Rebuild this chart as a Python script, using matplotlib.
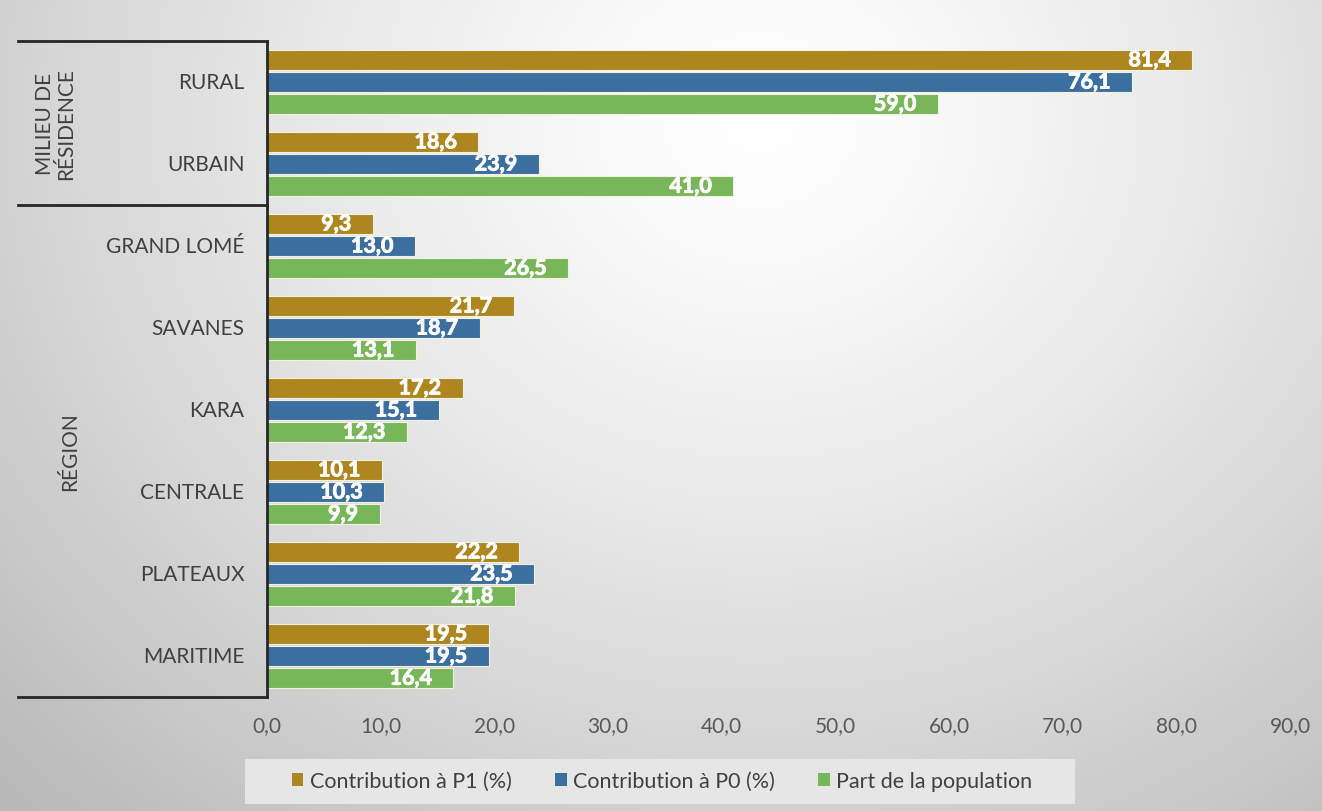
import numpy as np
import matplotlib.pyplot as plt
import matplotlib.patheffects as pe
from matplotlib.lines import Line2D
from matplotlib.patches import Patch, Rectangle

categories = ['RURAL', 'URBAIN', 'GRAND LOMÉ', 'SAVANES', 'KARA', 'CENTRALE', 'PLATEAUX', 'MARITIME']
p1 = [81.4, 18.6, 9.3, 21.7, 17.2, 10.1, 22.2, 19.5]
p0 = [76.1, 23.9, 13.0, 18.7, 15.1, 10.3, 23.5, 19.5]
pop = [59.0, 41.0, 26.5, 13.1, 12.3, 9.9, 21.8, 16.4]
series_names = ['Contribution à P1 (%)', 'Contribution à P0 (%)', 'Part de la population']
colors = ['#AD861F', '#3B6FA0', '#78B65A']
xticks = [0, 10, 20, 30, 40, 50, 60, 70, 80, 90]

plt.rcParams['font.family'] = ['Lato', 'DejaVu Sans']
fs = 15

W, H = 1322, 812
fig = plt.figure(figsize=(W / 100, H / 100), dpi=100)

# radial gradient background
bg = fig.add_axes([0, 0, 1, 1], zorder=-10)
yy, xx = np.mgrid[0:H, 0:W]
r = np.sqrt(((xx - 760) / 900.0) ** 2 + ((yy - 120) / 800.0) ** 2)
shade = 1.0 - 0.22 * np.clip(r, 0, 1.2) ** 1.3
bg.imshow(np.dstack([shade] * 3), extent=[0, 1, 0, 1], aspect='auto', origin='upper')
bg.set_axis_off()

x0, x1 = 267 / W, 1290 / W
y_top, y_bot = 1 - 42 / H, 1 - 698 / H
ax = fig.add_axes([x0, y_bot, x1 - x0, y_top - y_bot])
ax.patch.set_alpha(0)

bold = [pe.withStroke(linewidth=0.7, foreground='white')]
ypos = np.arange(len(categories))
step, h = 0.27, 0.245
for k, (vals, c) in enumerate(zip([p1, p0, pop], colors)):
    yk = ypos + (k - 1) * step
    ax.barh(yk, vals, height=h, color=c, edgecolor='#f4f0e0', linewidth=0.8)
    for y, v in zip(yk, vals):
        ax.text(v - 1.9, y, f'{v:.1f}'.replace('.', ','), ha='right', va='center',
                color='white', fontsize=fs + 0.5, fontweight='bold', path_effects=bold)

ax.set_xlim(0, 90)
ax.set_ylim(len(categories) - 0.5, -0.5)
ax.set_xticks(xticks)
ax.set_xticklabels([f'{t:.1f}'.replace('.', ',') for t in xticks], fontsize=fs, color='#595959')
ax.set_yticks([])
ax.tick_params(axis='x', length=0, pad=13)
for s in ['top', 'right', 'bottom']:
    ax.spines[s].set_visible(False)
ax.spines['left'].set_color('#262626')
ax.spines['left'].set_linewidth(2)

# category labels
for y, c in zip(ypos, categories):
    ax.text(-2.0, y, c, ha='right', va='center', fontsize=fs, color='#404040')

# bracket lines for two-level axis
for yb in [-0.5, 1.5, 7.5]:
    ax.add_line(Line2D([-21.9, 0], [yb, yb], color='#262626', lw=2, clip_on=False))
ax.text(-18.6, 0.5, 'MILIEU DE\nRÉSIDENCE', rotation=90, ha='center', va='center',
        fontsize=fs, color='#404040', linespacing=1.05)
ax.text(-17.3, 4.5, 'RÉGION', rotation=90, ha='center', va='center',
        fontsize=fs, color='#404040')

# legend box
fig.patches.append(Rectangle((245 / W, 1 - 805 / H), 830 / W, 45 / H, transform=fig.transFigure,
                             facecolor='#e6e6e6', edgecolor='none', zorder=0))
handles = [Patch(facecolor=c, edgecolor='none') for c in colors]
leg = fig.legend(handles, series_names, loc='center', bbox_to_anchor=(662 / W, 1 - 782 / H),
                 ncol=3, frameon=False, fontsize=fs + 0.5, handlelength=0.55, handleheight=0.55,
                 handletextpad=0.3, columnspacing=2.0)
for t in leg.get_texts():
    t.set_color('#404040')

fig.savefig('out.png', dpi=100)
